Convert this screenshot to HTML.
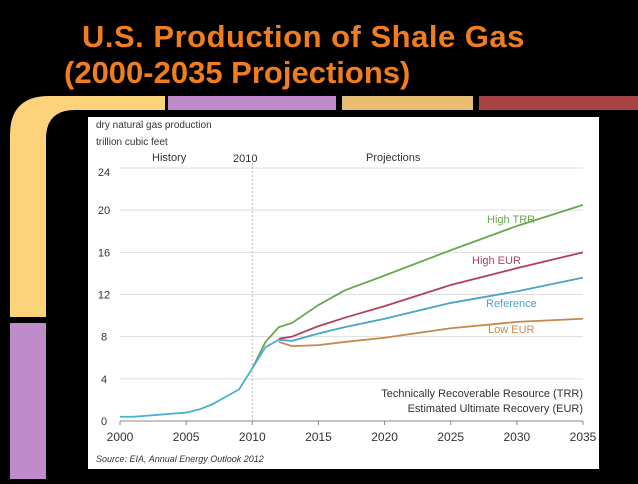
<!DOCTYPE html>
<html><head><meta charset="utf-8"><style>
body{margin:0;background:#000;width:638px;height:479px;overflow:hidden;font-family:"Liberation Sans",sans-serif}
</style></head><body>
<svg width="638" height="479" xmlns="http://www.w3.org/2000/svg" font-family="Liberation Sans, sans-serif">
<rect width="638" height="479" fill="#000"/>
<text x="82" y="47" fill="#f07d1e" font-size="31" font-weight="bold" letter-spacing="0.5">U.S. Production of Shale Gas</text>
<text x="64" y="83" fill="#f07d1e" font-size="31" font-weight="bold">(2000-2035 Projections)</text>
<path d="M10 317 V135 Q10 96 49 96 H165 V110 H75 Q46 110 46 139 V317 Z" fill="#fcd27a"/>
<rect x="10" y="323" width="36" height="156" fill="#c08bcb"/>
<rect x="168" y="96" width="168" height="14" fill="#c08bcb"/>
<rect x="342" y="96" width="131" height="14" fill="#e7be6f"/>
<rect x="479" y="96" width="159" height="14" fill="#a64444"/>
<rect x="88" y="117" width="511" height="352" fill="#fff"/>
<g id="chart" font-size="11" fill="#333"></g>
</svg>
<script>
const years=[2000,2001,2002,2003,2004,2005,2006,2007,2008,2009,2010,2011,2012];
const history=[0.4,0.4,0.5,0.6,0.7,0.8,1.1,1.6,2.3,3.0,5.0,7.0,7.7];
const projYears=[2012,2013,2015,2017,2020,2025,2030,2035];
const reference=[7.7,7.6,8.3,8.9,9.7,11.2,12.3,13.6];
const highEUR=[7.8,8.0,9.0,9.8,10.9,12.9,14.5,16.0];
const highTRRYears=[2010,2011,2012,2013,2015,2017,2020,2025,2030,2035];
const highTRR=[5.0,7.5,8.9,9.3,11.0,12.4,13.8,16.2,18.5,20.5];
const lowEUR=[7.5,7.1,7.2,7.5,7.9,8.8,9.4,9.7];
const yTicks=[0,4,8,12,16,20,24];
const xTicks=[2000,2005,2010,2015,2020,2025,2030,2035];
const X=y=>120+(y-2000)*(463/35), Y=v=>421-v*(253/24);
const g=document.getElementById('chart'),NS='http://www.w3.org/2000/svg';
function el(t,a,txt){const e=document.createElementNS(NS,t);for(const k in a)e.setAttribute(k,a[k]);if(txt!==undefined)e.textContent=txt;g.appendChild(e);return e;}
yTicks.forEach(v=>{
 const l=el('line',{x1:X(2000),x2:X(2035),y1:Y(v),y2:Y(v),stroke:'#ddd','stroke-width':1});
 
 
 const t=el('text',{x:104,y:Y(v)+(v==24?8:4),'font-size':11,'text-anchor':'middle'},v);
 
 
});
const ax=el('line',{x1:X(2000),x2:X(2035),y1:Y(0),y2:Y(0),stroke:'#888'});


xTicks.forEach(v=>{
 const t=el('text',{x:X(v),y:441,'text-anchor':'middle','font-size':12},v);
 
 
 const tk=el('line',{x1:X(v),x2:X(v),y1:Y(0),y2:Y(0)+4,stroke:'#888'});
 
 
});
const dv=el('line',{x1:X(2010),x2:X(2010),y1:Y(24)-5,y2:Y(0),stroke:'#bbb','stroke-dasharray':'2,2'});


function line(xs,vs,c,n){const p=el('polyline',{points:xs.map((x,i)=>X(x)+','+Y(vs[i])).join(' '),fill:'none',stroke:c,'stroke-width':1.8});
 
 }
line(highTRRYears,highTRR,'#6aa84f','line-high-trr');
line(projYears,highEUR,'#b0405f','line-high-eur');
line(projYears,lowEUR,'#c8874a','line-low-eur');
line(projYears,reference,'#4aa3c8','line-reference');
line(years,history,'#4ab0d0','line-history');
const labels=[['dry natural gas production',96,128,10,'#333','start','axis-title-1'],['trillion cubic feet',96,145,10,'#333','start','axis-title-2'],['History',152,161,11,'#333','start','history-label'],['2010',233,162,11,'#333','start','year-2010-label'],['Projections',366,161,11,'#333','start','projections-label'],
['High TRR',487,223,11,'#6aa84f','start','label-high-trr'],['High EUR',472,264,11,'#b0405f','start','label-high-eur'],['Reference',486,307,11,'#4aa3c8','start','label-reference'],['Low EUR',488,333,11,'#c8874a','start','label-low-eur'],
['Technically Recoverable Resource (TRR)',583,397,11,'#333','end','note-trr'],['Estimated Ultimate Recovery (EUR)',583,412,11,'#333','end','note-eur']];
labels.forEach(([s,x,y,f,c,a,n])=>{const t=el('text',{x,y,'font-size':f,fill:c,'text-anchor':a},s);
 
 });
const src=el('text',{x:96,y:462,'font-size':9,'font-style':'italic'},'Source:  EIA, Annual Energy Outlook 2012');


</script>
</body></html>
